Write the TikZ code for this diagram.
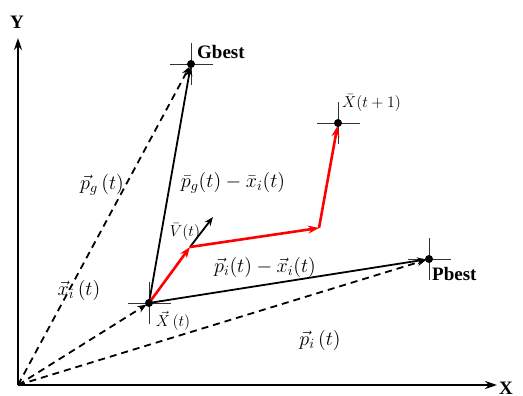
\documentclass[tikz,border=0pt]{standalone}
\usepackage{graphicx}
\usepackage{fontspec}
\setmainfont{Liberation Serif}
\usetikzlibrary{arrows.meta}
\newcommand{\myBigMath}[1]{\scalebox{1.4}{$#1$}}
\newcommand{\mySmallMath}[1]{\scalebox{1.1}{$#1$}}
\begin{document}
\begin{tikzpicture}[x=1pt,y=-1pt,
  cross/.style={line width=0.6pt,black!80},
  vecline/.style={line width=1.8pt,shorten >=3pt,-{Stealth[length=9pt,width=7pt]}},
  dline/.style={line width=1.8pt,dash pattern=on 7pt off 5pt,shorten >=3pt,-{Stealth[length=9pt,width=7pt]}},
  redline/.style={line width=2.6pt,red,-{Stealth[length=11pt,width=8pt]}},
  axis/.style={line width=1.8pt,-{Stealth[length=12pt,width=8pt]}},
  lbl/.style={font=\fontsize{14.4}{17}\selectfont,inner sep=1pt},
  blbl/.style={font=\fontsize{19}{21}\selectfont\bfseries,inner sep=1pt}]
\useasboundingbox (0,0) rectangle (523,396);
% points
\coordinate (O) at (18,385);
\coordinate (ytip) at (18,38);
\coordinate (xtip) at (497,385);
\coordinate (G) at (191,64);
\coordinate (P) at (429,259);
\coordinate (N) at (338,123);
\coordinate (Xi) at (149,303);
\coordinate (A) at (190,247);
\coordinate (B) at (319,228);
\coordinate (Vt) at (213,217);
% crosshairs
\foreach \c in {G,P,N,Xi}{
  \draw[cross] ([xshift=-21pt]\c) -- ([xshift=22pt]\c);
  \draw[cross] ([yshift=-21pt]\c) -- ([yshift=21pt]\c);
}
% axes
\draw[axis] (O) -- (ytip);
\draw[axis] (O) -- (xtip);
\node[blbl] (ylab) at (17,22) {Y};
\node[blbl] (xlab) at (506,388) {X};
% dashed
\draw[dline] (O) -- (G);
\draw[dline] (O) -- (P);
\draw[dline] (O) -- (Xi);
% solid
\draw[vecline] (Xi) -- (G);
\draw[vecline] (Xi) -- (P);
\draw[line width=1.8pt,-{Stealth[length=9pt,width=7pt]}] (A) -- (Vt);
% red
\draw[redline] (Xi) -- (A);
\draw[redline] (A) -- (B);
\draw[redline,shorten >=3pt] (B) -- (N);
% dots
\foreach \c in {G,P,N,Xi}{ \fill (\c) circle (4pt); }
% labels
\node[blbl,anchor=west] (gl) at (196,52) {Gbest};
\node[blbl,anchor=west] (pl) at (431,274) {Pbest};
\node[lbl,anchor=west] (nl) at (341,103) {\mySmallMath{\bar{X}(t+1)}};
\node[lbl] (pg) at (102,185) {\myBigMath{\vec{p}_g\left(t\right)}};
\node[lbl] (pgx) at (233,183) {\myBigMath{\bar{p}_g(t)-\bar{x}_i(t)}};
\node[lbl] (vl) at (185,232) {\mySmallMath{\bar{V}(t)}};
\node[lbl] (pix) at (265,267) {\myBigMath{\vec{p}_i(t)-\vec{x}_i(t)}};
\node[lbl] (xl) at (79,290) {\myBigMath{\vec{x}_i\left(t\right)}};
\node[lbl] (Xl) at (173,321) {\mySmallMath{\vec{X}\,(t)}};
\node[lbl] (pil) at (320,340) {\myBigMath{\vec{p}_i\left(t\right)}};
\end{tikzpicture}
\end{document}
